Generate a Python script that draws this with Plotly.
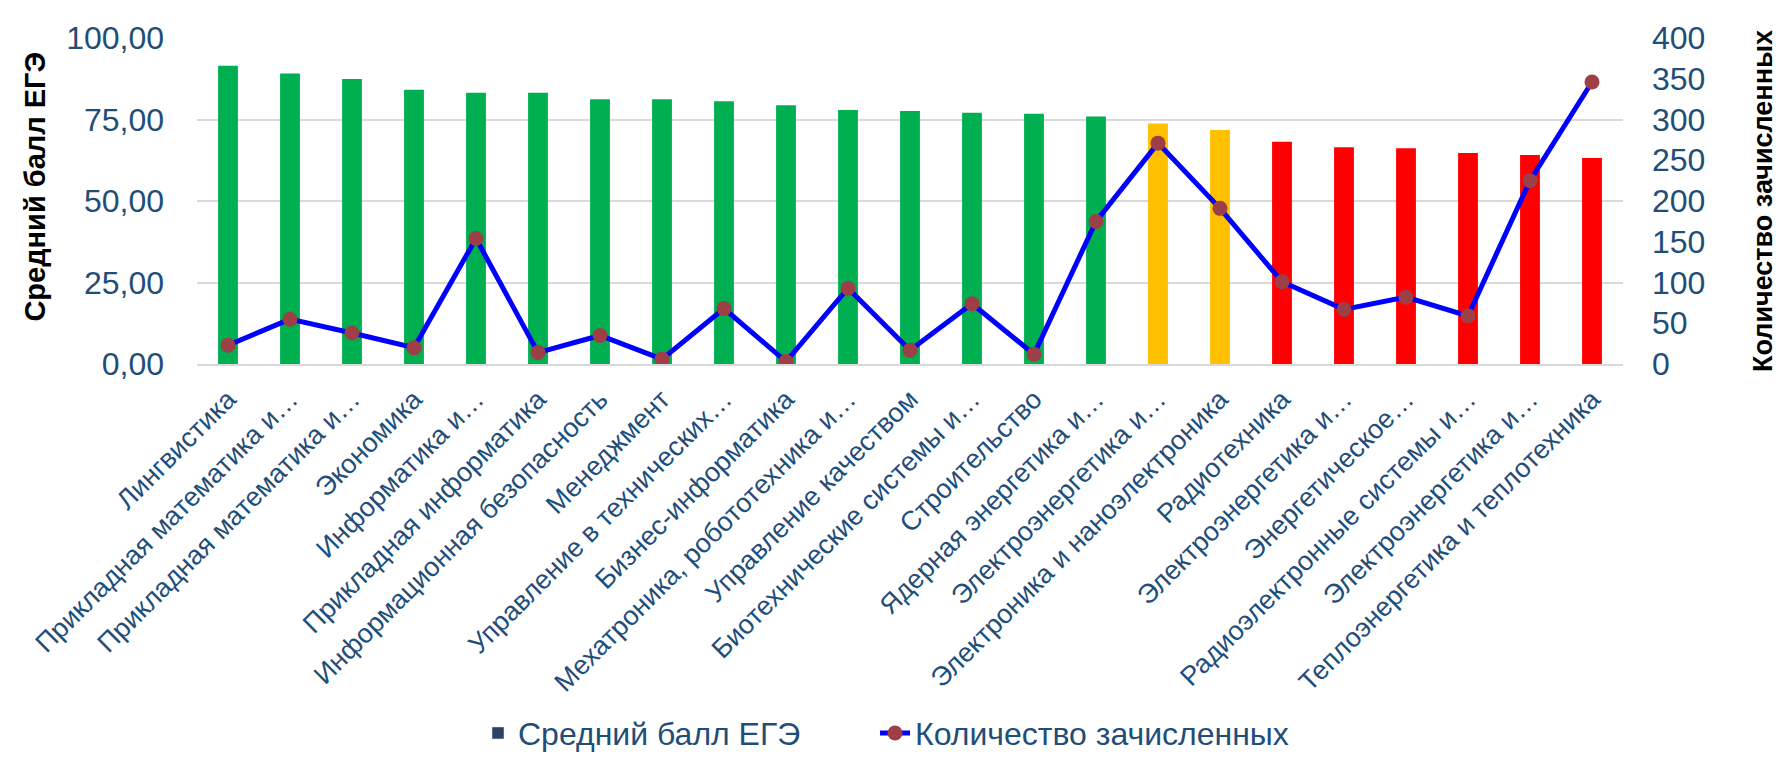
import plotly.graph_objects as go

categories = [
    "Лингвистика",
    "Прикладная математика и…",
    "Прикладная математика и…",
    "Экономика",
    "Информатика и…",
    "Прикладная информатика",
    "Информационная безопасность",
    "Менеджмент",
    "Управление в технических…",
    "Бизнес-информатика",
    "Мехатроника, робототехника и…",
    "Управление качеством",
    "Биотехнические системы и…",
    "Строительство",
    "Ядерная энергетика и…",
    "Электроэнергетика и…",
    "Электроника и наноэлектроника",
    "Радиотехника",
    "Электроэнергетика и…",
    "Энергетическое…",
    "Радиоэлектронные системы и…",
    "Электроэнергетика и…",
    "Теплоэнергетика и теплотехника",
]

avg_score = [91.5, 89.1, 87.4, 84.1, 83.2, 83.2, 81.2, 81.2, 80.6, 79.4, 77.9, 77.6,
             77.1, 76.8, 75.9, 73.8, 71.8, 68.2, 66.5, 66.2, 64.7, 64.1, 63.2]

enrolled = [23, 55, 38, 20, 154, 14, 35, 6, 68, 3, 93, 17, 74, 12, 175, 271, 191,
            101, 67, 82, 59, 225, 346]

bar_colors = ["#00B050"] * 15 + ["#FFC000"] * 2 + ["#FF0000"] * 6

left_ticks = [0, 25, 50, 75, 100]
right_ticks = [0, 50, 100, 150, 200, 250, 300, 350, 400]

W, H = 1783, 765
L, R, T, B = 189, 168, 26, 399
FONT = "Liberation Sans, Arial, sans-serif"
TICK_COLOR = "#1F4E79"

x = list(range(len(categories)))

fig = go.Figure()
fig.add_trace(go.Bar(
    x=x, y=avg_score, width=0.32,
    marker=dict(color=bar_colors, line=dict(width=0)),
    showlegend=False, name="Средний балл ЕГЭ",
))
fig.add_trace(go.Bar(
    x=[None], y=[None], name="Средний балл ЕГЭ",
    marker=dict(color="#2E4068"), showlegend=True, legendwidth=352,
))
fig.add_trace(go.Scatter(
    x=x, y=enrolled, yaxis="y2", mode="lines+markers",
    name="Количество зачисленных",
    line=dict(color="#0000FF", width=5),
    marker=dict(color="#9D3F47", size=15),
))

pw = W - L - R
ph = H - T - B

def px_to_paper_x(px):
    return (px - L) / pw

def px_to_paper_y(py):
    return (H - B - py) / ph

fig.update_layout(
    width=W, height=H,
    margin=dict(l=L, r=R, t=T, b=B, pad=0),
    paper_bgcolor="white", plot_bgcolor="white",
    barmode="overlay",
    separators=", ",
    font=dict(family=FONT, color=TICK_COLOR),
    xaxis=dict(
        tickmode="array", tickvals=x, ticktext=categories,
        tickangle=-45, range=[-0.5, len(categories) - 0.5],
        tickfont=dict(size=27, color=TICK_COLOR, family=FONT),
        showgrid=False, showline=True, linecolor="#D9D9D9", linewidth=1.5,
        ticks="", zeroline=False, ticklabelstandoff=7,
    ),
    yaxis=dict(
        range=[0, 100], tickmode="array", tickvals=left_ticks, tickformat=".2f",
        tickfont=dict(size=32, color=TICK_COLOR, family=FONT),
        showgrid=True, gridcolor="#D9D9D9", gridwidth=1.5,
        zeroline=False, ticks="", ticklabelstandoff=32,
    ),
    yaxis2=dict(
        range=[0, 400], tickmode="array", tickvals=right_ticks,
        overlaying="y", side="right",
        tickfont=dict(size=32, color=TICK_COLOR, family=FONT),
        showgrid=False, zeroline=False, ticks="", ticklabelstandoff=28,
        title=dict(text="Количество зачисленных", standoff=48,
                   font=dict(size=27, color="black", family=FONT, weight="bold")),
        automargin=False,
    ),
    legend=dict(
        orientation="h", x=px_to_paper_x(470), xanchor="left",
        y=px_to_paper_y(751), yanchor="middle",
        font=dict(size=32, color=TICK_COLOR, family=FONT),
        bgcolor="rgba(0,0,0,0)",
    ),
    annotations=[
        dict(text="Средний балл ЕГЭ", xref="paper", yref="paper",
             x=px_to_paper_x(27), y=px_to_paper_y(181), xanchor="center", yanchor="middle",
             textangle=-90, showarrow=False,
             font=dict(size=29, color="black", family=FONT, weight="bold")),
    ],
)

fig.write_html("out.html")
